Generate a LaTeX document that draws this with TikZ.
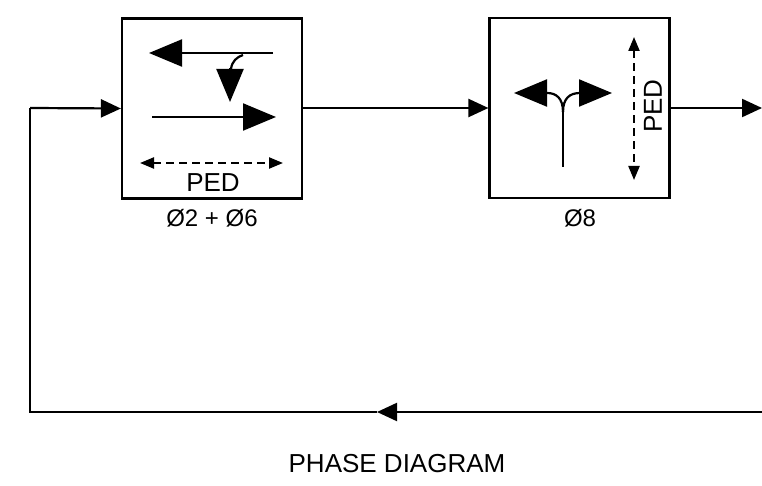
\documentclass[tikz,border=0pt]{standalone}
\usepackage{fontspec}
\setmainfont{Liberation Sans}
\usepackage{tikz}
\usetikzlibrary{arrows.meta,calc,positioning}

\begin{document}
\begin{tikzpicture}[x=1pt,y=-1pt,line width=2.2pt,
  block/.style={draw,line width=2.2pt,minimum width=180pt,minimum height=180pt,inner sep=0pt},
  bigtip/.style={-{Triangle[length=33pt,width=27pt]}},
  flowtip/.style={-{Triangle[length=20pt,width=18pt]}},
  pedtip/.style={{Triangle[length=14pt,width=11pt]}-{Triangle[length=14pt,width=11pt]},dash pattern=on 8pt off 5pt},
  lbl/.style={font=\fontsize{24}{28}\selectfont,inner sep=0pt}]
\useasboundingbox (0,0) rectangle (762,486);
%Bloecke
\node[block] (phA) at (212,108.5) {};
\node[block] (phB) at (579.5,108) {};
\node[lbl] (phAlbl) at (212,218.5) {Ø2 + Ø6};
\node[lbl] (phBlbl) at (580,218.5) {Ø8};
\node[lbl,font=\fontsize{26}{30}\selectfont] (title) at (397,464) {PHASE DIAGRAM};
%Ringleitung
\coordinate (inL) at (30,108);
\coordinate (outR) at (762,108);
\coordinate (loopR) at (762,412);
\coordinate (loopM) at (377,412);
\coordinate (loopL) at (30,412);
\draw[flowtip] (inL) -- (phA.west);
\draw[flowtip] (phA.east |- inL) -- (phB.west);
\draw[flowtip] (phB.east) -- (outR);
\draw[flowtip] (loopR) -- (loopM);
\draw (loopM) -- (loopL) -- (inL);
%Ø2 + Ø6
\draw[bigtip] (273,53) -- (149,53);
\draw (243,55) .. controls (237,57) and (232,61) .. (231,69);
\draw[bigtip] (230,68) -- (230,102);
\draw[bigtip] (152,117) -- (276,117);
\draw[pedtip] (140,163) -- (283,163);
\node[lbl,font=\fontsize{26}{30}\selectfont] (pedA) at (213,182.5) {PED};
%Ø8
\draw (563,167) -- (563,112);
\draw[bigtip] (563,112) .. controls (563,98) and (556,93) .. (547,93) -- (514,93);
\draw[bigtip] (563,112) .. controls (563,98) and (570,93) .. (580,93) -- (612,93);
\draw[pedtip] (634,37) -- (634,180);
\node[lbl,font=\fontsize{26}{30}\selectfont,rotate=90] (pedB) at (653,106) {PED};
\end{tikzpicture}
\end{document}
